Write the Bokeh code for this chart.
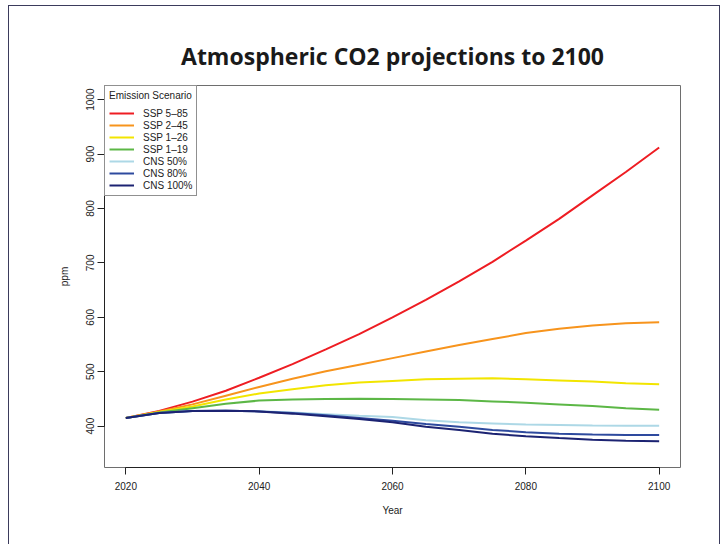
from bokeh.plotting import figure
from bokeh.models import Range1d, FixedTicker, Legend, LegendItem, InlineStyleSheet
from bokeh.embed import file_html
from bokeh.resources import INLINE

# Projection years (5-year steps)
years = [2020, 2025, 2030, 2035, 2040, 2045, 2050, 2055, 2060,
         2065, 2070, 2075, 2080, 2085, 2090, 2095, 2100]

# Atmospheric CO2 (ppm) per scenario
ssp_585 = [415, 428, 445, 465, 489, 514, 541, 569, 600,
           632, 666, 702, 741, 781, 824, 867, 912]
ssp_245 = [415, 427, 440, 456, 472, 487, 501, 513, 525,
           537, 549, 560, 571, 579, 585, 589, 591]
ssp_126 = [415, 426, 436, 449, 460, 468, 475, 480, 483,
           486, 487, 488, 486, 484, 482, 479, 477]
ssp_119 = [415, 425, 433, 441, 447, 449, 450, 450.5, 450,
           449, 448, 445.5, 443, 440, 437, 433, 430]
cns_50 = [415, 424, 428, 428.5, 427.5, 425, 422, 419, 417,
          411, 407, 405, 403, 402, 401, 400.8, 400.7]
cns_80 = [415, 424, 428, 428.5, 427, 424, 420, 415, 410,
          404, 399, 393, 389, 386, 384.5, 383.8, 383.5]
cns_100 = [415, 424, 428, 428.5, 427, 423, 418, 413, 407,
           399, 393, 386, 381.5, 378, 375, 373, 372.4]

scenario_names = ["SSP 5\u201385", "SSP 2\u201345", "SSP 1\u201326", "SSP 1\u201319",
                  "CNS 50%", "CNS 80%", "CNS 100%"]
scenario_values = [ssp_585, ssp_245, ssp_126, ssp_119, cns_50, cns_80, cns_100]
scenario_colors = ["#ee1d23", "#f7941d", "#f2e500", "#5cb746",
                   "#add8e6", "#2e4a9e", "#1c2372"]

x_ticks = [2020, 2040, 2060, 2080, 2100]
y_ticks = [400, 500, 600, 700, 800, 900, 1000]

LABEL_FONT = "Liberation Sans"

p = figure(width=726, height=544, output_backend="svg", toolbar_location=None,
           x_range=Range1d(2016.8, 2103.2), y_range=Range1d(324, 1026),
           title="Atmospheric CO2 projections to 2100")

p.min_border_left = 104
p.min_border_right = 46
p.min_border_top = 85
p.min_border_bottom = 77
p.background_fill_color = "white"
p.border_fill_color = "white"
p.outline_line_color = "#6e6e6e"
p.outline_line_width = 1

p.title.align = "center"
p.title.text_font = "Open Sans"
p.title.text_font_style = "bold"
p.title.text_font_size = "23px"
p.title.text_color = "#1a1a1a"
p.title.standoff = 27

p.xgrid.visible = False
p.ygrid.visible = False

for ax in (p.xaxis[0], p.yaxis[0]):
    ax.axis_line_color = "#222222"
    ax.major_tick_line_color = "#222222"
    ax.major_tick_in = 0
    ax.major_tick_out = 7
    ax.minor_tick_line_color = None
    ax.major_label_text_font = LABEL_FONT
    ax.major_label_text_font_size = "10px"
    ax.major_label_text_color = "#222222"
    ax.axis_label_text_font = LABEL_FONT
    ax.axis_label_text_font_size = "10px"
    ax.axis_label_text_font_style = "normal"
    ax.axis_label_text_color = "#222222"

p.xaxis.ticker = FixedTicker(ticks=x_ticks)
p.yaxis.ticker = FixedTicker(ticks=y_ticks)
p.xaxis.bounds = (x_ticks[0], x_ticks[-1])
p.yaxis.bounds = (y_ticks[0], y_ticks[-1])
p.xaxis.axis_label = "Year"
p.yaxis.axis_label = "ppm"
p.xaxis.major_label_standoff = 7
p.xaxis.axis_label_standoff = 12
p.yaxis.major_label_orientation = "vertical"
p.yaxis.major_label_standoff = 3
p.yaxis.axis_label_standoff = 14

items = []
for name, vals, col in zip(scenario_names, scenario_values, scenario_colors):
    r = p.line(years, vals, line_color=col, line_width=2)
    items.append(LegendItem(label=name, renderers=[r]))

legend = Legend(items=items, location="top_left", margin=0, padding=4,
                title="Emission Scenario", title_standoff=6,
                title_text_font=LABEL_FONT, title_text_font_size="10px",
                title_text_font_style="normal", title_text_color="#222222",
                label_text_font=LABEL_FONT, label_text_font_size="10px",
                label_text_color="#222222", label_standoff=9,
                glyph_width=25, glyph_height=12, label_height=12, spacing=0,
                border_line_color="#222222", border_line_width=1,
                background_fill_color="white", background_fill_alpha=1)
p.add_layout(legend)

# Thin page frame drawn around the whole figure area
p.stylesheets = [InlineStyleSheet(css="""
:host::after {
  content: "";
  position: absolute;
  left: 8px;
  top: 5px;
  width: 710px;
  height: 560px;
  border: 1px solid #3b3b5c;
  pointer-events: none;
  z-index: 10;
}
""")]

open("out.html", "w").write(file_html(p, INLINE))
